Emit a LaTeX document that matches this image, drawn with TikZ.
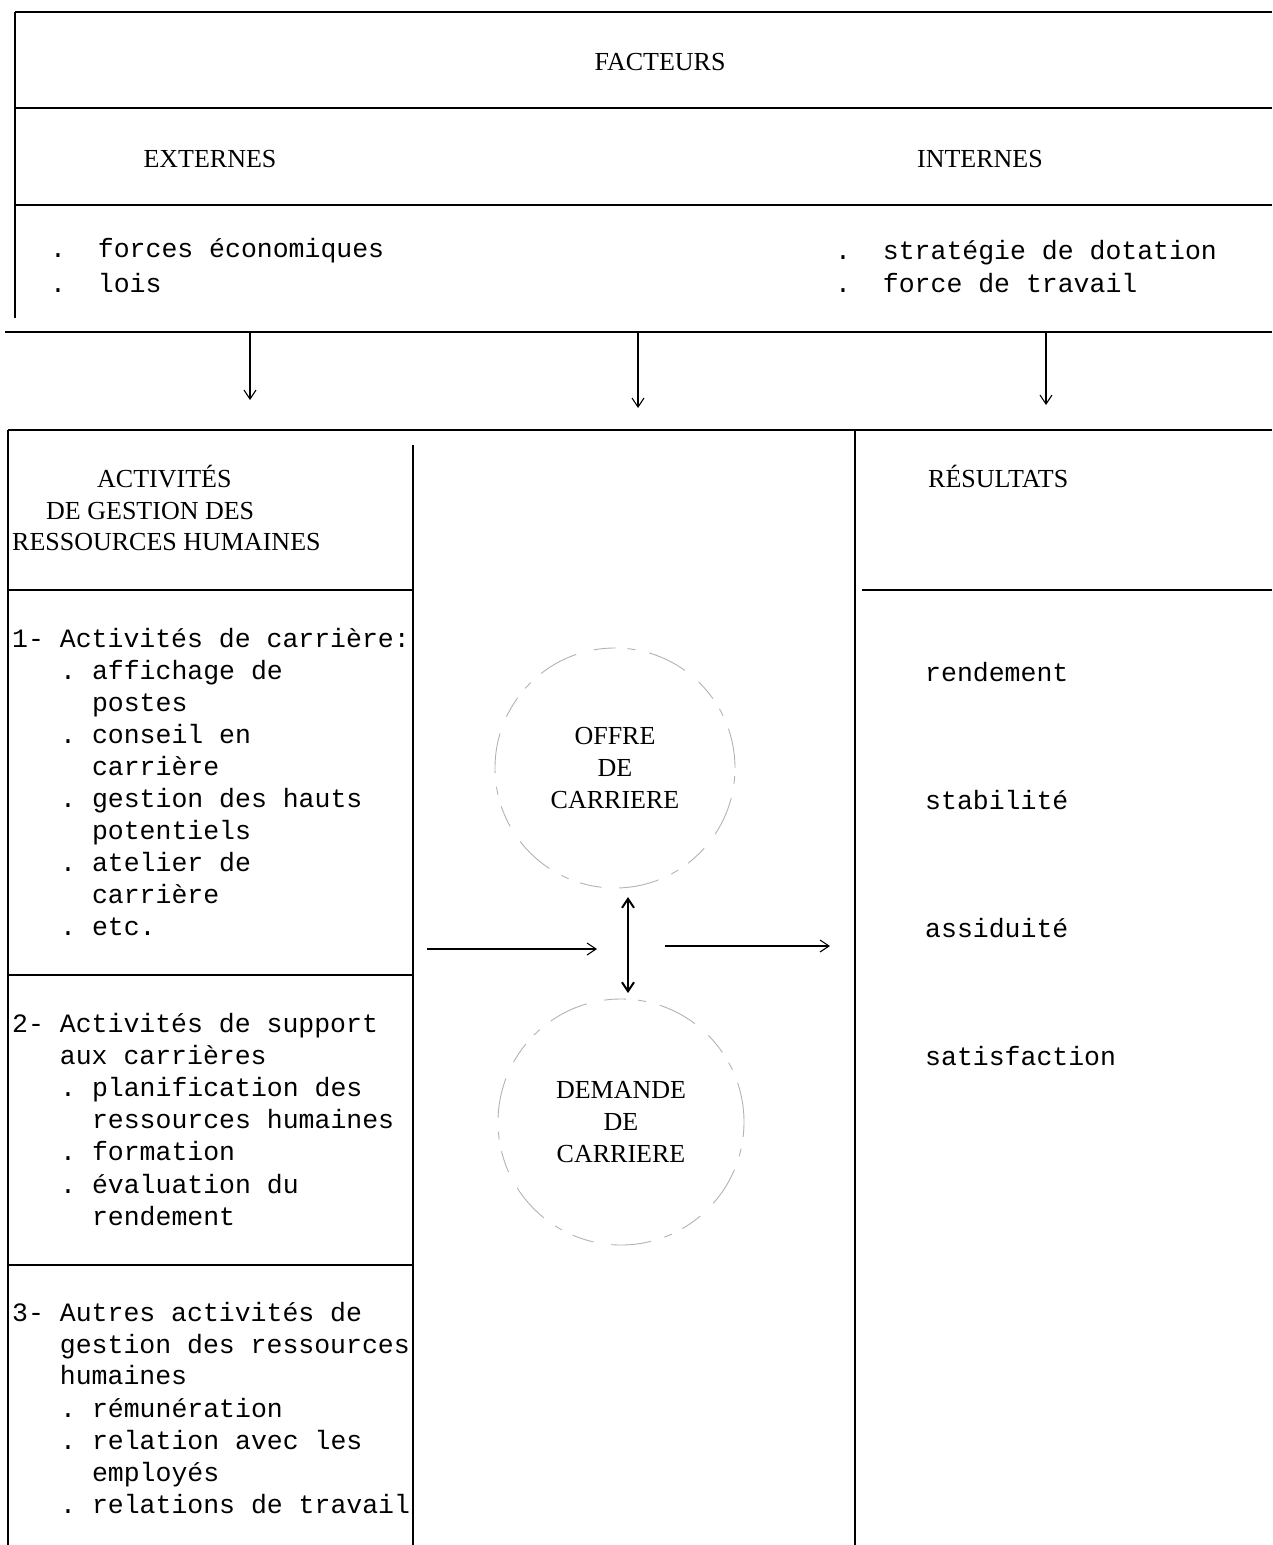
\documentclass[tikz,border=0pt]{standalone}
\usepackage{fontspec}
\setmainfont{Liberation Serif}
\setmonofont{Liberation Mono}
\usetikzlibrary{arrows.meta}
\begin{document}
\begin{tikzpicture}[x=1pt,y=-1pt,
  rule/.style={line width=1.6pt},
  thinrule/.style={line width=1.2pt},
  body/.style={anchor=base west, inner sep=0pt, font=\fontsize{26.5}{32}\selectfont\ttfamily},
  captext/.style={anchor=base, inner sep=0pt, font=\fontsize{26}{32}\selectfont},
  captextl/.style={anchor=base west, inner sep=0pt, font=\fontsize{26}{32}\selectfont},
  conn/.style={line width=1.1pt, -{Straight Barb[length=9pt,width=12pt]}},
  bubble/.style={circle, draw=gray!60, line width=0.9pt, dash pattern=on 40pt off 14pt on 8pt off 12pt on 22pt off 18pt,
     align=center, font=\fontsize{26}{32}\selectfont}
]
\useasboundingbox (0,0) rectangle (1272,1545);
% top box
\draw[rule] (15,12) -- (1272,12);
\draw[thinrule] (15,12) -- (15,318);
\draw[rule] (15,108) -- (1272,108);
\draw[rule] (15,205) -- (1272,205);
\draw[rule] (5,332) -- (1272,332);
\node[captext] (facteurs) at (660,70) {FACTEURS};
\node[captext] (externes) at (210,167) {EXTERNES};
\node[captext] (internes) at (980,167) {INTERNES};
\node[body] (e1) at (50,257) {.\ \ forces économiques};
\node[body] (e2) at (50,292) {.\ \ lois};
\node[body] (i1) at (835,259) {.\ \ stratégie de dotation};
\node[body] (i2) at (835,292) {.\ \ force de travail};
% down arrows
\coordinate (d1s) at (250,333); \coordinate (d1e) at (250,400);
\coordinate (d2s) at (638,333); \coordinate (d2e) at (638,408);
\coordinate (d3s) at (1046,333); \coordinate (d3e) at (1046,405);
\draw[conn] (d1s) -- (d1e);
\draw[conn] (d2s) -- (d2e);
\draw[conn] (d3s) -- (d3e);
% lower frame
\draw[rule] (8,430) -- (1272,430);
\draw[thinrule] (8,430) -- (8,1545);
\draw[thinrule] (413,445) -- (413,1545);
\draw[thinrule] (855,430) -- (855,1545);
\draw[rule] (8,590) -- (413,590);
\draw[rule] (862,590) -- (1272,590);
\draw[rule] (8,975) -- (413,975);
\draw[rule] (8,1265) -- (413,1265);
% left header
\node[captextl] (act1) at (97,487) {ACTIVITÉS};
\node[captextl] (act2) at (46,519) {DE GESTION DES};
\node[captextl] (act3) at (12,550) {RESSOURCES HUMAINES};
% section 1
\node[body] (s1a) at (12,647) {1- Activités de carrière:};
\node[body] (s1b) at (60,679) {. affichage de};
\node[body] (s1c) at (60,711) {\ \ postes};
\node[body] (s1d) at (60,743) {. conseil en};
\node[body] (s1e) at (60,775) {\ \ carrière};
\node[body] (s1f) at (60,807) {. gestion des hauts};
\node[body] (s1g) at (60,839) {\ \ potentiels};
\node[body] (s1h) at (60,871) {. atelier de};
\node[body] (s1i) at (60,903) {\ \ carrière};
\node[body] (s1j) at (60,935) {. etc.};
% section 2
\node[body] (s2a) at (12,1032) {2- Activités de support};
\node[body] (s2b) at (12,1064) {\ \ \ aux carrières};
\node[body] (s2c) at (60,1096) {. planification des};
\node[body] (s2d) at (60,1128) {\ \ ressources humaines};
\node[body] (s2e) at (60,1160) {. formation};
\node[body] (s2f) at (60,1193) {. évaluation du};
\node[body] (s2g) at (60,1225) {\ \ rendement};
% section 3
\node[body] (s3a) at (12,1321) {3- Autres activités de};
\node[body] (s3b) at (12,1353) {\ \ \ gestion des ressources};
\node[body] (s3c) at (12,1384) {\ \ \ humaines};
\node[body] (s3d) at (60,1417) {. rémunération};
\node[body] (s3e) at (60,1449) {. relation avec les};
\node[body] (s3f) at (60,1481) {\ \ employés};
\node[body] (s3g) at (60,1513) {. relations de travail};
% results
\node[captextl] (res) at (928,487) {RÉSULTATS};
\node[body] (r1) at (925,681) {rendement};
\node[body] (r2) at (925,809) {stabilité};
\node[body] (r3) at (925,937) {assiduité};
\node[body] (r4) at (925,1065) {satisfaction};
% circles
\node[bubble, minimum size=240pt] (offre) at (615,768) {OFFRE\\DE\\CARRIERE};
\node[bubble, minimum size=246pt] (demande) at (621,1122) {DEMANDE\\DE\\CARRIERE};
% connectors
\coordinate (ua) at (628,897); \coordinate (ub) at (628,993);
\draw[line width=2pt, {Straight Barb[length=9pt,width=12pt]}-{Straight Barb[length=9pt,width=12pt]}] (ua) -- (ub);
\coordinate (ha) at (427,949); \coordinate (hb) at (597,949);
\draw[conn] (ha) -- (hb);
\coordinate (hc) at (665,946); \coordinate (hd) at (830,946);
\draw[conn] (hc) -- (hd);
\end{tikzpicture}
\end{document}
